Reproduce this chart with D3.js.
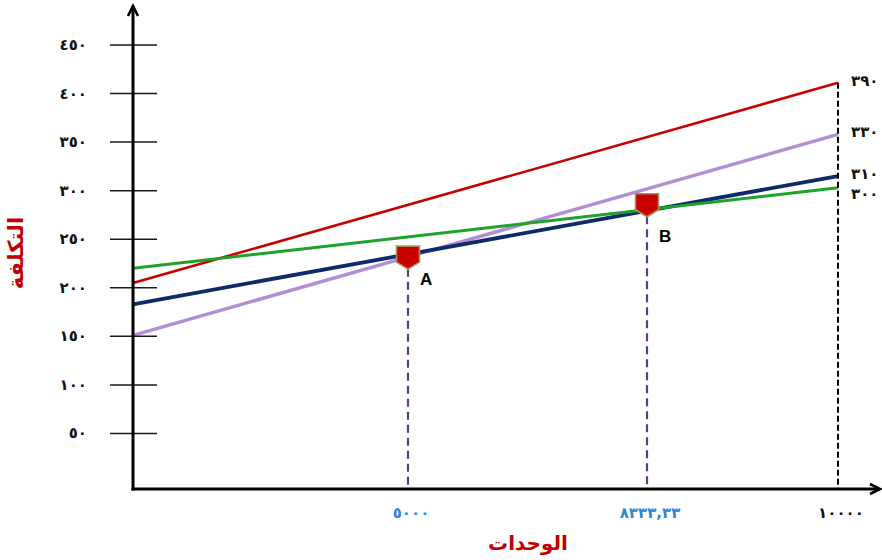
<!DOCTYPE html>
<html><head><meta charset="utf-8">
<script src="https://cdn.jsdelivr.net/npm/d3@7"></script>
<style>body{margin:0;background:#fff}svg{display:block}</style>
</head><body><svg id="c" width="882" height="560"></svg>
<script>
// ---- data ----
const xBreaks = [0, 5000, 8333.33, 10000];
const xTickValues = [5000, 8333.33, 10000];
const xTickLabels = ["٥٠٠٠", "٨٣٣٣,٣٣", "١٠٠٠٠"];
const yTickValues = [50, 100, 150, 200, 250, 300, 350, 400, 450];
const yTickLabels = ["٥٠", "١٠٠", "١٥٠", "٢٠٠", "٢٥٠", "٣٠٠", "٣٥٠", "٤٠٠", "٤٥٠"];
const seriesNames = ["red", "purple", "blue", "green"];
const seriesStart = [205, 151, 183, 220];   // cost at 0 units
const seriesEnd = [411, 358, 315, 303];     // cost at 10000 units
const endLabels = ["٣٩٠", "٣٣٠", "٣١٠", "٣٠٠"];
const pointNames = ["A", "B"];
const pointX = [5000, 8333.33];
const pointY = [231, 285];
const xTitle = "الوحدات";
const yTitle = "التكلفة";

// ---- styles ----
const colors = {red: "#c80000", purple: "#b18fd2", blue: "#0d2a6b", green: "#1fa22a"};
const widths = {red: 2.6, purple: 3.4, blue: 3.8, green: 3};
const xTickColors = ["#2f86d2", "#2f86d2", "#111"];
const pointLabelDy = [27, 37];
const FONT = "'DejaVu Sans', sans-serif";

const svg = d3.select("#c");
const x = d3.scaleLinear().domain(xBreaks).range([133, 408, 647, 838]);
const y = d3.scaleLinear().domain([0, 450]).range([482, 45]);
const axisY = 489, axisX = 133;

// ---- lines ----
const line = d3.line().x(d => x(d[0])).y(d => y(d[1]));
seriesNames.forEach((n, i) => {
  svg.append("path")
    .attr("d", line([[xBreaks[0], seriesStart[i]], [xBreaks[xBreaks.length - 1], seriesEnd[i]]]))
    .attr("fill", "none").attr("stroke", colors[n]).attr("stroke-width", widths[n]);
});

// ---- y ticks ----
yTickValues.forEach((v, i) => {
  svg.append("line").attr("x1", 110).attr("x2", 157).attr("y1", y(v)).attr("y2", y(v))
    .attr("stroke", "#1a1a1a").attr("stroke-width", 1.5);
  svg.append("text").attr("x", 87).attr("y", y(v) + 5)
    .attr("text-anchor", "end").attr("font-family", FONT).attr("font-weight", "bold")
    .attr("font-size", 15).attr("letter-spacing", 5).attr("fill", "#111")
    .text(yTickLabels[i]);
});

// ---- black dashed at end ----
const xEnd = x(xBreaks[xBreaks.length - 1]);
svg.append("line").attr("x1", xEnd).attr("x2", xEnd)
  .attr("y1", y(d3.max(seriesEnd))).attr("y2", axisY)
  .attr("stroke", "#000").attr("stroke-width", 2).attr("stroke-dasharray", "6,3");

// ---- end labels with simple collision avoidance ----
const ends = seriesEnd.map((v, i) => ({i, y: y(v)})).sort((a, b) => a.y - b.y);
for (let k = 1; k < ends.length; k++) {
  if (ends[k].y - ends[k - 1].y < 18) ends[k].y = ends[k - 1].y + 20;
}
ends.forEach(e => {
  svg.append("text").attr("x", 851).attr("y", e.y + 3)
    .attr("font-family", FONT).attr("font-weight", "bold")
    .attr("font-size", 15).attr("letter-spacing", 5).attr("fill", "#111")
    .text(endLabels[e.i]);
});

// ---- points ----
pointNames.forEach((n, i) => {
  const cx = x(pointX[i]), cy = y(pointY[i]);
  svg.append("line").attr("x1", cx).attr("x2", cx).attr("y1", cy + 11).attr("y2", axisY)
    .attr("stroke", "#5e3c7e").attr("stroke-width", 2.2).attr("stroke-dasharray", "8,5");
  const s = 11.5;
  svg.append("path")
    .attr("d", `M${cx - s},${cy - s}H${cx + s}V${cy + 4.5}L${cx},${cy + s}L${cx - s},${cy + 4.5}Z`)
    .attr("fill", "#c80000").attr("stroke", "#a8905a").attr("stroke-width", 1.6);
  svg.append("text").attr("x", cx + 12).attr("y", cy + pointLabelDy[i])
    .attr("font-family", "'Liberation Sans', Arial, sans-serif").attr("font-weight", "bold")
    .attr("font-size", 17).attr("fill", "#000").text(n);
});

// ---- axes ----
svg.append("line").attr("x1", axisX).attr("x2", axisX).attr("y1", 6).attr("y2", axisY + 1.5)
  .attr("stroke", "#000").attr("stroke-width", 3);
svg.append("path").attr("d", `M${axisX - 5},16L${axisX},6L${axisX + 5},16`)
  .attr("fill", "none").attr("stroke", "#000").attr("stroke-width", 2.6);
svg.append("line").attr("x1", axisX - 1.5).attr("x2", 879).attr("y1", axisY).attr("y2", axisY)
  .attr("stroke", "#000").attr("stroke-width", 3);
svg.append("path").attr("d", `M870,${axisY - 5}L880,${axisY}L870,${axisY + 5}`)
  .attr("fill", "none").attr("stroke", "#000").attr("stroke-width", 2.6);

// ---- x tick labels ----
xTickValues.forEach((v, i) => {
  svg.append("text").attr("x", x(v) + 3).attr("y", 518)
    .attr("text-anchor", "middle").attr("font-family", FONT).attr("font-weight", "bold")
    .attr("font-size", 15).attr("letter-spacing", 6).attr("fill", xTickColors[i])
    .text(xTickLabels[i]);
});

// ---- titles ----
svg.append("text").attr("x", 528).attr("y", 550).attr("text-anchor", "middle")
  .attr("font-family", FONT).attr("font-weight", "bold").attr("font-size", 20)
  .attr("fill", "#c00000").text(xTitle);
svg.append("text").attr("transform", "translate(23,253) rotate(-90)").attr("text-anchor", "middle")
  .attr("font-family", FONT).attr("font-weight", "bold").attr("font-size", 21)
  .attr("fill", "#c00000").text(yTitle);
</script></body></html>
